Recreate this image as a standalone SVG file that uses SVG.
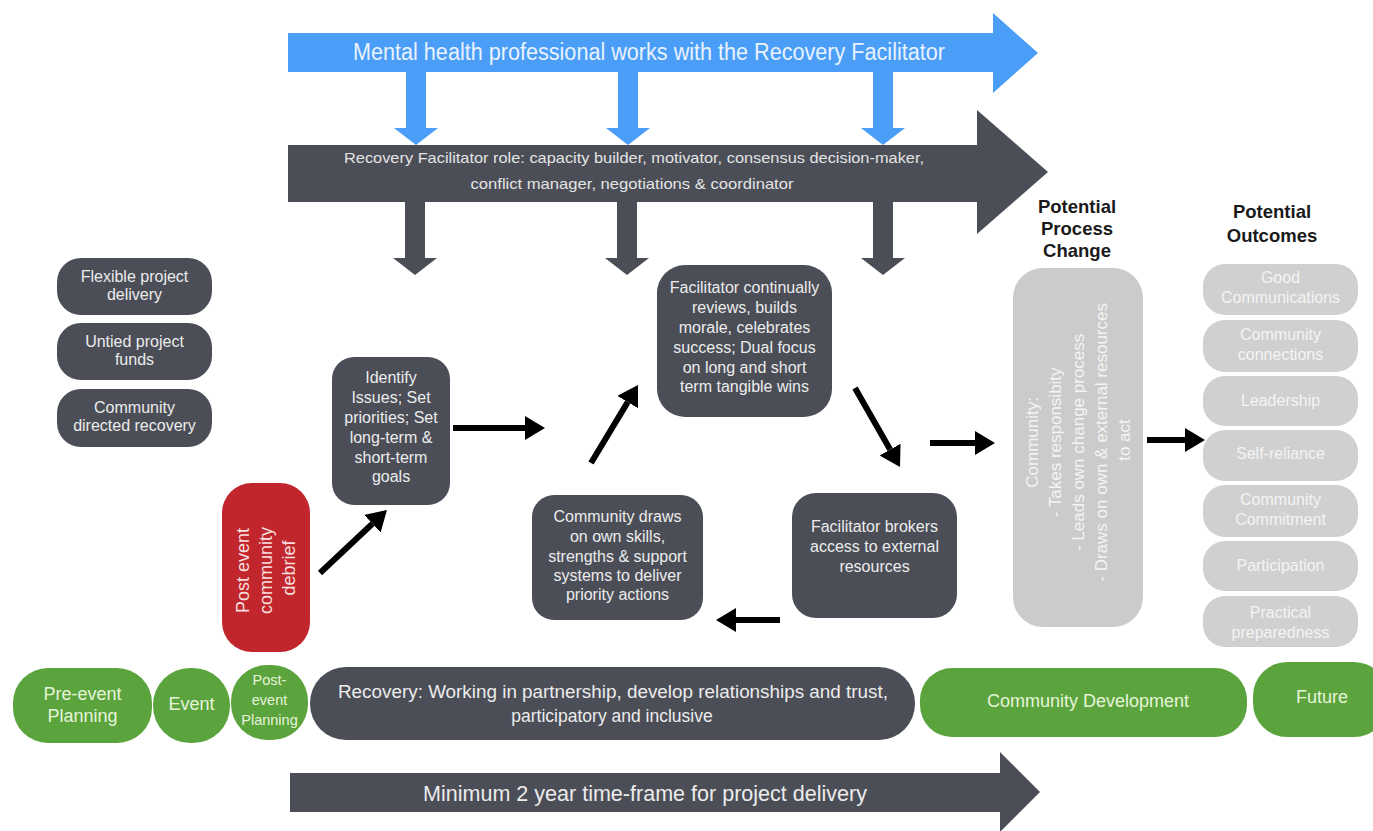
<svg xmlns="http://www.w3.org/2000/svg" width="1373" height="831" viewBox="0 0 1373 831">
<defs>
<style>
text{font-family:"Liberation Sans",Arial,sans-serif}
.dk{fill:#4b4e57}
.bl{fill:#4a9ef7}
.gr{fill:#5ba43d}
.lg{fill:#cbcbcb}
.lo{fill:#d0d0d0}
.red{fill:#c1262c}
.tw{fill:#ececec;font-size:16px;text-anchor:middle}
.tg{fill:#f4f4f4;font-size:16px;text-anchor:middle}
.tgr{fill:#e6f4da;text-anchor:middle}
.hd{fill:#1a1a1a;font-size:18.5px;font-weight:bold;text-anchor:middle}
.ar{stroke:#000;stroke-width:6;fill:none;marker-end:url(#ah)}
</style>
<marker id="ah" viewBox="0 0 20 24" refX="0" refY="12" markerWidth="20" markerHeight="24" markerUnits="userSpaceOnUse" orient="auto">
<path d="M0,0 L20,12 L0,24 z" fill="#000"/>
</marker>
</defs>
<rect width="1373" height="831" fill="#fff"/>

<g id="mental-health-arrow">
<polygon class="bl" points="288,33 993,33 993,13 1038,53 993,93 993,72 288,72"/>
<text x="649" y="60" fill="#e9f2fd" font-size="23" text-anchor="middle" textLength="592" lengthAdjust="spacingAndGlyphs">Mental health professional works with the Recovery Facilitator</text>
<polygon class="bl" points="406,72 426,72 426,128 438,128 416,145 394,128 406,128"/>
<polygon class="bl" points="618,72 638,72 638,128 650,128 628,145 606,128 618,128"/>
<polygon class="bl" points="873,72 893,72 893,128 905,128 883,145 861,128 873,128"/>
</g>

<g id="facilitator-role-arrow">
<polygon class="dk" points="288,145 977,145 977,110 1048,172 977,234 977,202 288,202"/>
<text x="634" y="163" fill="#e4e4e4" font-size="15" text-anchor="middle" textLength="580" lengthAdjust="spacingAndGlyphs">Recovery Facilitator role: capacity builder, motivator, consensus decision-maker,</text>
<text x="632" y="189" fill="#e4e4e4" font-size="15" text-anchor="middle" textLength="323" lengthAdjust="spacingAndGlyphs">conflict manager, negotiations &amp; coordinator</text>
<polygon class="dk" points="405,202 425,202 425,258 437,258 415,275 393,258 405,258"/>
<polygon class="dk" points="617,202 637,202 637,258 649,258 627,275 605,258 617,258"/>
<polygon class="dk" points="873,202 893,202 893,258 905,258 883,275 861,258 873,258"/>
</g>

<g id="flexible-delivery">
<rect class="dk" x="57" y="258" width="155" height="57" rx="24"/>
<text class="tw" x="134.5" y="282">Flexible project</text>
<text class="tw" x="134.5" y="300">delivery</text>
</g>
<g id="untied-funds">
<rect class="dk" x="57" y="323" width="155" height="57" rx="24"/>
<text class="tw" x="134.5" y="347">Untied project</text>
<text class="tw" x="134.5" y="365">funds</text>
</g>
<g id="community-directed">
<rect class="dk" x="57" y="389" width="155" height="58" rx="24"/>
<text class="tw" x="134.5" y="413">Community</text>
<text class="tw" x="134.5" y="431">directed recovery</text>
</g>

<g id="debrief">
<rect class="red" x="222" y="483" width="88" height="169" rx="30"/>
<text transform="translate(266,568) rotate(-90)" fill="#f7dede" font-size="18" text-anchor="middle">
<tspan x="0" y="-17">Post event</tspan>
<tspan x="0" y="6">community</tspan>
<tspan x="0" y="29">debrief</tspan>
</text>
</g>

<g id="identify">
<rect class="dk" x="332" y="357" width="118" height="148" rx="22"/>
<text class="tw" x="391" y="383">Identify</text>
<text class="tw" x="391" y="403">Issues; Set</text>
<text class="tw" x="391" y="423">priorities; Set</text>
<text class="tw" x="391" y="443">long-term &amp;</text>
<text class="tw" x="391" y="463">short-term</text>
<text class="tw" x="391" y="482">goals</text>
</g>

<g id="reviews">
<rect class="dk" x="657" y="265" width="175" height="152" rx="28"/>
<text class="tw" x="744.5" y="293">Facilitator continually</text>
<text class="tw" x="744.5" y="313">reviews, builds</text>
<text class="tw" x="744.5" y="333">morale, celebrates</text>
<text class="tw" x="744.5" y="353">success; Dual focus</text>
<text class="tw" x="744.5" y="373">on long and short</text>
<text class="tw" x="744.5" y="392">term tangible wins</text>
</g>

<g id="community-draws">
<rect class="dk" x="532" y="495" width="171" height="125" rx="22"/>
<text class="tw" x="617.5" y="522">Community draws</text>
<text class="tw" x="617.5" y="542">on own skills,</text>
<text class="tw" x="617.5" y="562">strengths &amp; support</text>
<text class="tw" x="617.5" y="581">systems to deliver</text>
<text class="tw" x="617.5" y="600">priority actions</text>
</g>

<g id="brokers">
<rect class="dk" x="792" y="493" width="165" height="125" rx="24"/>
<text class="tw" x="874.5" y="532">Facilitator brokers</text>
<text class="tw" x="874.5" y="552">access to external</text>
<text class="tw" x="874.5" y="572">resources</text>
</g>

<g id="process-change">
<text class="hd" x="1077" y="213">Potential</text>
<text class="hd" x="1077" y="235">Process</text>
<text class="hd" x="1077" y="257">Change</text>
<rect class="lg" x="1013" y="268" width="130" height="359" rx="30"/>
<text transform="translate(1078,440) rotate(-90)" fill="#f4f4f4" font-size="17" text-anchor="middle">
<tspan x="0" y="-40">Community:</tspan>
<tspan x="0" y="-17">- Takes responsibity</tspan>
<tspan x="0" y="6">- Leads own change process</tspan>
<tspan x="0" y="29">- Draws on own &amp; external resources</tspan>
<tspan x="0" y="52">to act</tspan>
</text>
</g>

<g id="outcomes">
<text class="hd" x="1272" y="218">Potential</text>
<text class="hd" x="1272" y="242">Outcomes</text>
<rect class="lo" x="1203" y="264" width="155" height="51" rx="22"/>
<text class="tg" x="1280.5" y="283">Good</text>
<text class="tg" x="1280.5" y="303">Communications</text>
<rect class="lo" x="1203" y="320" width="155" height="52" rx="22"/>
<text class="tg" x="1280.5" y="340">Community</text>
<text class="tg" x="1280.5" y="360">connections</text>
<rect class="lo" x="1203" y="376" width="155" height="50" rx="22"/>
<text class="tg" x="1280.5" y="406">Leadership</text>
<rect class="lo" x="1203" y="430" width="155" height="51" rx="22"/>
<text class="tg" x="1280.5" y="459">Self-reliance</text>
<rect class="lo" x="1203" y="485" width="155" height="52" rx="22"/>
<text class="tg" x="1280.5" y="505">Community</text>
<text class="tg" x="1280.5" y="525">Commitment</text>
<rect class="lo" x="1203" y="541" width="155" height="50" rx="22"/>
<text class="tg" x="1280.5" y="571">Participation</text>
<rect class="lo" x="1203" y="596" width="155" height="51" rx="22"/>
<text class="tg" x="1280.5" y="618">Practical</text>
<text class="tg" x="1280.5" y="638">preparedness</text>
</g>

<g id="connectors">
<line class="ar" x1="320" y1="573" x2="372.4" y2="523.7"/>
<line class="ar" x1="453" y1="428" x2="525" y2="428"/>
<line class="ar" x1="591" y1="463" x2="627.7" y2="402.1"/>
<line class="ar" x1="855" y1="388" x2="890.1" y2="449.6"/>
<line class="ar" x1="930" y1="443" x2="975" y2="443"/>
<line class="ar" x1="780" y1="620" x2="736" y2="620"/>
<line class="ar" x1="1147" y1="440" x2="1185" y2="440"/>
</g>

<g id="pre-event">
<rect class="gr" x="13" y="668" width="139" height="75" rx="35"/>
<text class="tgr" x="82.5" y="700" font-size="18">Pre-event</text>
<text class="tgr" x="82.5" y="722" font-size="18">Planning</text>
</g>
<g id="event">
<rect class="gr" x="153" y="668" width="77" height="75" rx="37"/>
<text class="tgr" x="191.5" y="710" font-size="18">Event</text>
</g>
<g id="post-event">
<rect class="gr" x="231" y="665" width="77" height="75" rx="36"/>
<text class="tgr" x="269.5" y="685" font-size="14.5">Post-</text>
<text class="tgr" x="269.5" y="705" font-size="14.5">event</text>
<text class="tgr" x="269.5" y="725" font-size="14.5">Planning</text>
</g>
<g id="recovery">
<rect class="dk" x="310" y="667" width="605" height="73" rx="36"/>
<text x="613" y="698" fill="#ececec" font-size="17.5" text-anchor="middle" textLength="550" lengthAdjust="spacingAndGlyphs">Recovery: Working in partnership, develop relationships and trust,</text>
<text x="612" y="722" fill="#ececec" font-size="17.5" text-anchor="middle">participatory and inclusive</text>
</g>
<g id="community-development">
<rect class="gr" x="920" y="668" width="327" height="69" rx="32"/>
<text class="tgr" x="1088" y="707" font-size="18">Community Development</text>
</g>
<g id="future">
<rect class="gr" x="1253" y="662" width="135" height="75" rx="34"/>
<text class="tgr" x="1322" y="703" font-size="18">Future</text>
</g>

<g id="timeframe-arrow">
<polygon class="dk" points="290,773 1000,773 1000,752 1040,792 1000,832 1000,812 290,812"/>
<text x="645" y="801" fill="#ececec" font-size="22" text-anchor="middle" textLength="444" lengthAdjust="spacingAndGlyphs">Minimum 2 year time-frame for project delivery</text>
</g>
</svg>
